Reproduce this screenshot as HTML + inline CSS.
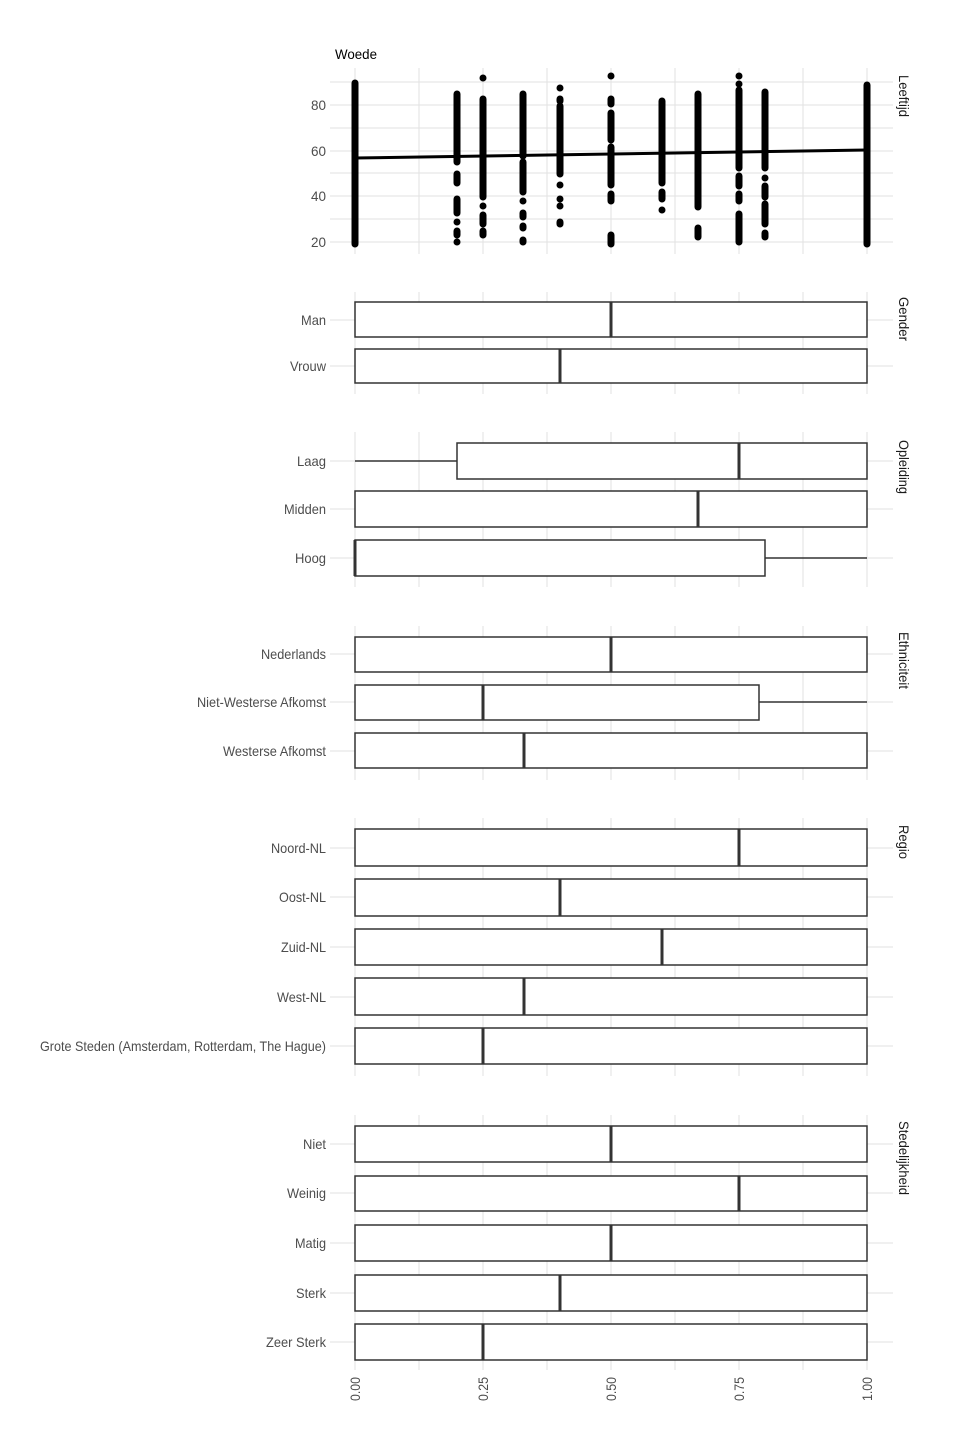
<!DOCTYPE html>
<html><head><meta charset="utf-8"><style>
html,body{margin:0;padding:0;background:#fff;}
svg{display:block;font-family:"Liberation Sans",sans-serif;}
.g{stroke:#e2e2e2;stroke-width:1;}
.lab{font-size:14px;fill:#4d4d4d;text-anchor:end;}
.strip{font-size:14px;fill:#1a1a1a;}
.box{fill:#fff;stroke:#333;stroke-width:1.5;}
.med{stroke:#333;stroke-width:3;}
.wh{stroke:#333;stroke-width:1.5;}
.col{stroke:#000;stroke-width:7;stroke-linecap:round;}
</style></head><body>
<svg width="960" height="1440" viewBox="0 0 960 1440">
<g class="g">
<line x1="330" y1="82" x2="893" y2="82"/>
<line x1="330" y1="105" x2="893" y2="105"/>
<line x1="330" y1="128" x2="893" y2="128"/>
<line x1="330" y1="151" x2="893" y2="151"/>
<line x1="330" y1="173" x2="893" y2="173"/>
<line x1="330" y1="196" x2="893" y2="196"/>
<line x1="330" y1="219" x2="893" y2="219"/>
<line x1="330" y1="242" x2="893" y2="242"/>
<line x1="355" y1="68" x2="355" y2="254"/><line x1="419" y1="68" x2="419" y2="254"/>
<line x1="483" y1="68" x2="483" y2="254"/><line x1="547" y1="68" x2="547" y2="254"/>
<line x1="611" y1="68" x2="611" y2="254"/><line x1="675" y1="68" x2="675" y2="254"/>
<line x1="739" y1="68" x2="739" y2="254"/><line x1="803" y1="68" x2="803" y2="254"/>
<line x1="867" y1="68" x2="867" y2="254"/>
</g>
<text x="335" y="59" style="font-size:14px;fill:#000" textLength="42" lengthAdjust="spacingAndGlyphs">Woede</text>
<text class="lab" x="326" y="110" textLength="15" lengthAdjust="spacingAndGlyphs">80</text>
<text class="lab" x="326" y="156" textLength="15" lengthAdjust="spacingAndGlyphs">60</text>
<text class="lab" x="326" y="201" textLength="15" lengthAdjust="spacingAndGlyphs">40</text>
<text class="lab" x="326" y="247" textLength="15" lengthAdjust="spacingAndGlyphs">20</text>
<text class="strip" transform="translate(899,75) rotate(90)" textLength="42" lengthAdjust="spacingAndGlyphs">Leeftijd</text>
<g class="col">
<line x1="355" y1="244" x2="355" y2="83"/>
<line x1="457" y1="94" x2="457" y2="162"/><line x1="457" y1="174" x2="457" y2="183"/><line x1="457" y1="199" x2="457" y2="213"/><line x1="457" y1="222" x2="457" y2="222"/><line x1="457" y1="231" x2="457" y2="235"/><line x1="457" y1="242" x2="457" y2="242"/>
<line x1="483" y1="78" x2="483" y2="78"/><line x1="483" y1="99" x2="483" y2="197"/><line x1="483" y1="206" x2="483" y2="206"/><line x1="483" y1="215" x2="483" y2="224"/><line x1="483" y1="231" x2="483" y2="235"/>
<line x1="523" y1="94" x2="523" y2="156"/><line x1="523" y1="162" x2="523" y2="192"/><line x1="523" y1="201" x2="523" y2="201"/><line x1="523" y1="213" x2="523" y2="217"/><line x1="523" y1="226" x2="523" y2="228"/><line x1="523" y1="240" x2="523" y2="242"/>
<line x1="560" y1="88" x2="560" y2="88"/><line x1="560" y1="99" x2="560" y2="101"/><line x1="560" y1="106" x2="560" y2="174"/><line x1="560" y1="185" x2="560" y2="185"/><line x1="560" y1="199" x2="560" y2="199"/><line x1="560" y1="206" x2="560" y2="206"/><line x1="560" y1="222" x2="560" y2="224"/>
<line x1="611" y1="76" x2="611" y2="76"/><line x1="611" y1="99" x2="611" y2="104"/><line x1="611" y1="113" x2="611" y2="140"/><line x1="611" y1="147" x2="611" y2="185"/><line x1="611" y1="194" x2="611" y2="201"/><line x1="611" y1="235" x2="611" y2="244"/>
<line x1="662" y1="101" x2="662" y2="183"/><line x1="662" y1="192" x2="662" y2="199"/><line x1="662" y1="210" x2="662" y2="210"/>
<line x1="698" y1="94" x2="698" y2="207"/><line x1="698" y1="228" x2="698" y2="237"/>
<line x1="739" y1="76" x2="739" y2="76"/><line x1="739" y1="84" x2="739" y2="84"/><line x1="739" y1="90" x2="739" y2="168"/><line x1="739" y1="176" x2="739" y2="186"/><line x1="739" y1="194" x2="739" y2="201"/><line x1="739" y1="214" x2="739" y2="242"/>
<line x1="765" y1="92" x2="765" y2="168"/><line x1="765" y1="178" x2="765" y2="178"/><line x1="765" y1="186" x2="765" y2="197"/><line x1="765" y1="204" x2="765" y2="224"/><line x1="765" y1="233" x2="765" y2="237"/>
<line x1="867" y1="244" x2="867" y2="85"/>
</g>
<line x1="355" y1="158" x2="867" y2="150" stroke="#000" stroke-width="3"/>

<g class="g">
<line x1="330" y1="320" x2="893" y2="320"/><line x1="330" y1="366" x2="893" y2="366"/>
<line x1="330" y1="461" x2="893" y2="461"/><line x1="330" y1="509" x2="893" y2="509"/><line x1="330" y1="558" x2="893" y2="558"/>
<line x1="330" y1="654" x2="893" y2="654"/><line x1="330" y1="702" x2="893" y2="702"/><line x1="330" y1="751" x2="893" y2="751"/>
<line x1="330" y1="848" x2="893" y2="848"/><line x1="330" y1="897" x2="893" y2="897"/><line x1="330" y1="947" x2="893" y2="947"/><line x1="330" y1="997" x2="893" y2="997"/><line x1="330" y1="1046" x2="893" y2="1046"/>
<line x1="330" y1="1144" x2="893" y2="1144"/><line x1="330" y1="1193" x2="893" y2="1193"/><line x1="330" y1="1243" x2="893" y2="1243"/><line x1="330" y1="1293" x2="893" y2="1293"/><line x1="330" y1="1342" x2="893" y2="1342"/>
</g>
<g class="g">
<path d="M355 292V394M419 292V394M483 292V394M547 292V394M611 292V394M675 292V394M739 292V394M803 292V394M867 292V394"/>
<path d="M355 432V587M419 432V587M483 432V587M547 432V587M611 432V587M675 432V587M739 432V587M803 432V587M867 432V587"/>
<path d="M355 626V780M419 626V780M483 626V780M547 626V780M611 626V780M675 626V780M739 626V780M803 626V780M867 626V780"/>
<path d="M355 818V1076M419 818V1076M483 818V1076M547 818V1076M611 818V1076M675 818V1076M739 818V1076M803 818V1076M867 818V1076"/>
<path d="M355 1115V1370M419 1115V1370M483 1115V1370M547 1115V1370M611 1115V1370M675 1115V1370M739 1115V1370M803 1115V1370M867 1115V1370"/>
</g>

<line class="wh" x1="355" y1="461" x2="457" y2="461"/>
<line class="wh" x1="765" y1="558" x2="867" y2="558"/>
<line class="wh" x1="759" y1="702" x2="867" y2="702"/>

<rect class="box" x="355" y="302" width="512" height="35"/><line class="med" x1="611" y1="302" x2="611" y2="337"/>
<rect class="box" x="355" y="349" width="512" height="34"/><line class="med" x1="560" y1="349" x2="560" y2="383"/>

<rect class="box" x="457" y="443" width="410" height="36"/><line class="med" x1="739" y1="443" x2="739" y2="479"/>
<rect class="box" x="355" y="491" width="512" height="36"/><line class="med" x1="698" y1="491" x2="698" y2="527"/>
<rect class="box" x="355" y="540" width="410" height="36"/><line class="med" x1="355" y1="540" x2="355" y2="576"/>

<rect class="box" x="355" y="637" width="512" height="35"/><line class="med" x1="611" y1="637" x2="611" y2="672"/>
<rect class="box" x="355" y="685" width="404" height="35"/><line class="med" x1="483" y1="685" x2="483" y2="720"/>
<rect class="box" x="355" y="733" width="512" height="35"/><line class="med" x1="524" y1="733" x2="524" y2="768"/>

<rect class="box" x="355" y="829" width="512" height="37"/><line class="med" x1="739" y1="829" x2="739" y2="866"/>
<rect class="box" x="355" y="879" width="512" height="37"/><line class="med" x1="560" y1="879" x2="560" y2="916"/>
<rect class="box" x="355" y="929" width="512" height="36"/><line class="med" x1="662" y1="929" x2="662" y2="965"/>
<rect class="box" x="355" y="978" width="512" height="37"/><line class="med" x1="524" y1="978" x2="524" y2="1015"/>
<rect class="box" x="355" y="1028" width="512" height="36"/><line class="med" x1="483" y1="1028" x2="483" y2="1064"/>

<rect class="box" x="355" y="1126" width="512" height="36"/><line class="med" x1="611" y1="1126" x2="611" y2="1162"/>
<rect class="box" x="355" y="1176" width="512" height="35"/><line class="med" x1="739" y1="1176" x2="739" y2="1211"/>
<rect class="box" x="355" y="1225" width="512" height="36"/><line class="med" x1="611" y1="1225" x2="611" y2="1261"/>
<rect class="box" x="355" y="1275" width="512" height="36"/><line class="med" x1="560" y1="1275" x2="560" y2="1311"/>
<rect class="box" x="355" y="1324" width="512" height="36"/><line class="med" x1="483" y1="1324" x2="483" y2="1360"/>

<g class="lab">
<text x="326" y="325" textLength="25" lengthAdjust="spacingAndGlyphs">Man</text>
<text x="326" y="371" textLength="36" lengthAdjust="spacingAndGlyphs">Vrouw</text>
<text x="326" y="466" textLength="29" lengthAdjust="spacingAndGlyphs">Laag</text>
<text x="326" y="514" textLength="42" lengthAdjust="spacingAndGlyphs">Midden</text>
<text x="326" y="563" textLength="31" lengthAdjust="spacingAndGlyphs">Hoog</text>
<text x="326" y="659" textLength="65" lengthAdjust="spacingAndGlyphs">Nederlands</text>
<text x="326" y="707" textLength="129" lengthAdjust="spacingAndGlyphs">Niet-Westerse Afkomst</text>
<text x="326" y="756" textLength="103" lengthAdjust="spacingAndGlyphs">Westerse Afkomst</text>
<text x="326" y="853" textLength="55" lengthAdjust="spacingAndGlyphs">Noord-NL</text>
<text x="326" y="902" textLength="47" lengthAdjust="spacingAndGlyphs">Oost-NL</text>
<text x="326" y="952" textLength="45" lengthAdjust="spacingAndGlyphs">Zuid-NL</text>
<text x="326" y="1002" textLength="49" lengthAdjust="spacingAndGlyphs">West-NL</text>
<text x="326" y="1051" textLength="286" lengthAdjust="spacingAndGlyphs">Grote Steden (Amsterdam, Rotterdam, The Hague)</text>
<text x="326" y="1149" textLength="23" lengthAdjust="spacingAndGlyphs">Niet</text>
<text x="326" y="1198" textLength="39" lengthAdjust="spacingAndGlyphs">Weinig</text>
<text x="326" y="1248" textLength="31" lengthAdjust="spacingAndGlyphs">Matig</text>
<text x="326" y="1298" textLength="30" lengthAdjust="spacingAndGlyphs">Sterk</text>
<text x="326" y="1347" textLength="60" lengthAdjust="spacingAndGlyphs">Zeer Sterk</text>
</g>

<text class="strip" transform="translate(899,297) rotate(90)" textLength="44" lengthAdjust="spacingAndGlyphs">Gender</text>
<text class="strip" transform="translate(899,440) rotate(90)" textLength="54" lengthAdjust="spacingAndGlyphs">Opleiding</text>
<text class="strip" transform="translate(899,632) rotate(90)" textLength="57" lengthAdjust="spacingAndGlyphs">Ethniciteit</text>
<text class="strip" transform="translate(899,825) rotate(90)" textLength="34" lengthAdjust="spacingAndGlyphs">Regio</text>
<text class="strip" transform="translate(899,1121) rotate(90)" textLength="74" lengthAdjust="spacingAndGlyphs">Stedelijkheid</text>

<g class="lab">
<text transform="translate(360,1377) rotate(-90)" textLength="24" lengthAdjust="spacingAndGlyphs">0.00</text>
<text transform="translate(488,1377) rotate(-90)" textLength="24" lengthAdjust="spacingAndGlyphs">0.25</text>
<text transform="translate(616,1377) rotate(-90)" textLength="24" lengthAdjust="spacingAndGlyphs">0.50</text>
<text transform="translate(744,1377) rotate(-90)" textLength="24" lengthAdjust="spacingAndGlyphs">0.75</text>
<text transform="translate(872,1377) rotate(-90)" textLength="24" lengthAdjust="spacingAndGlyphs">1.00</text>
</g>
</svg>
</body></html>
